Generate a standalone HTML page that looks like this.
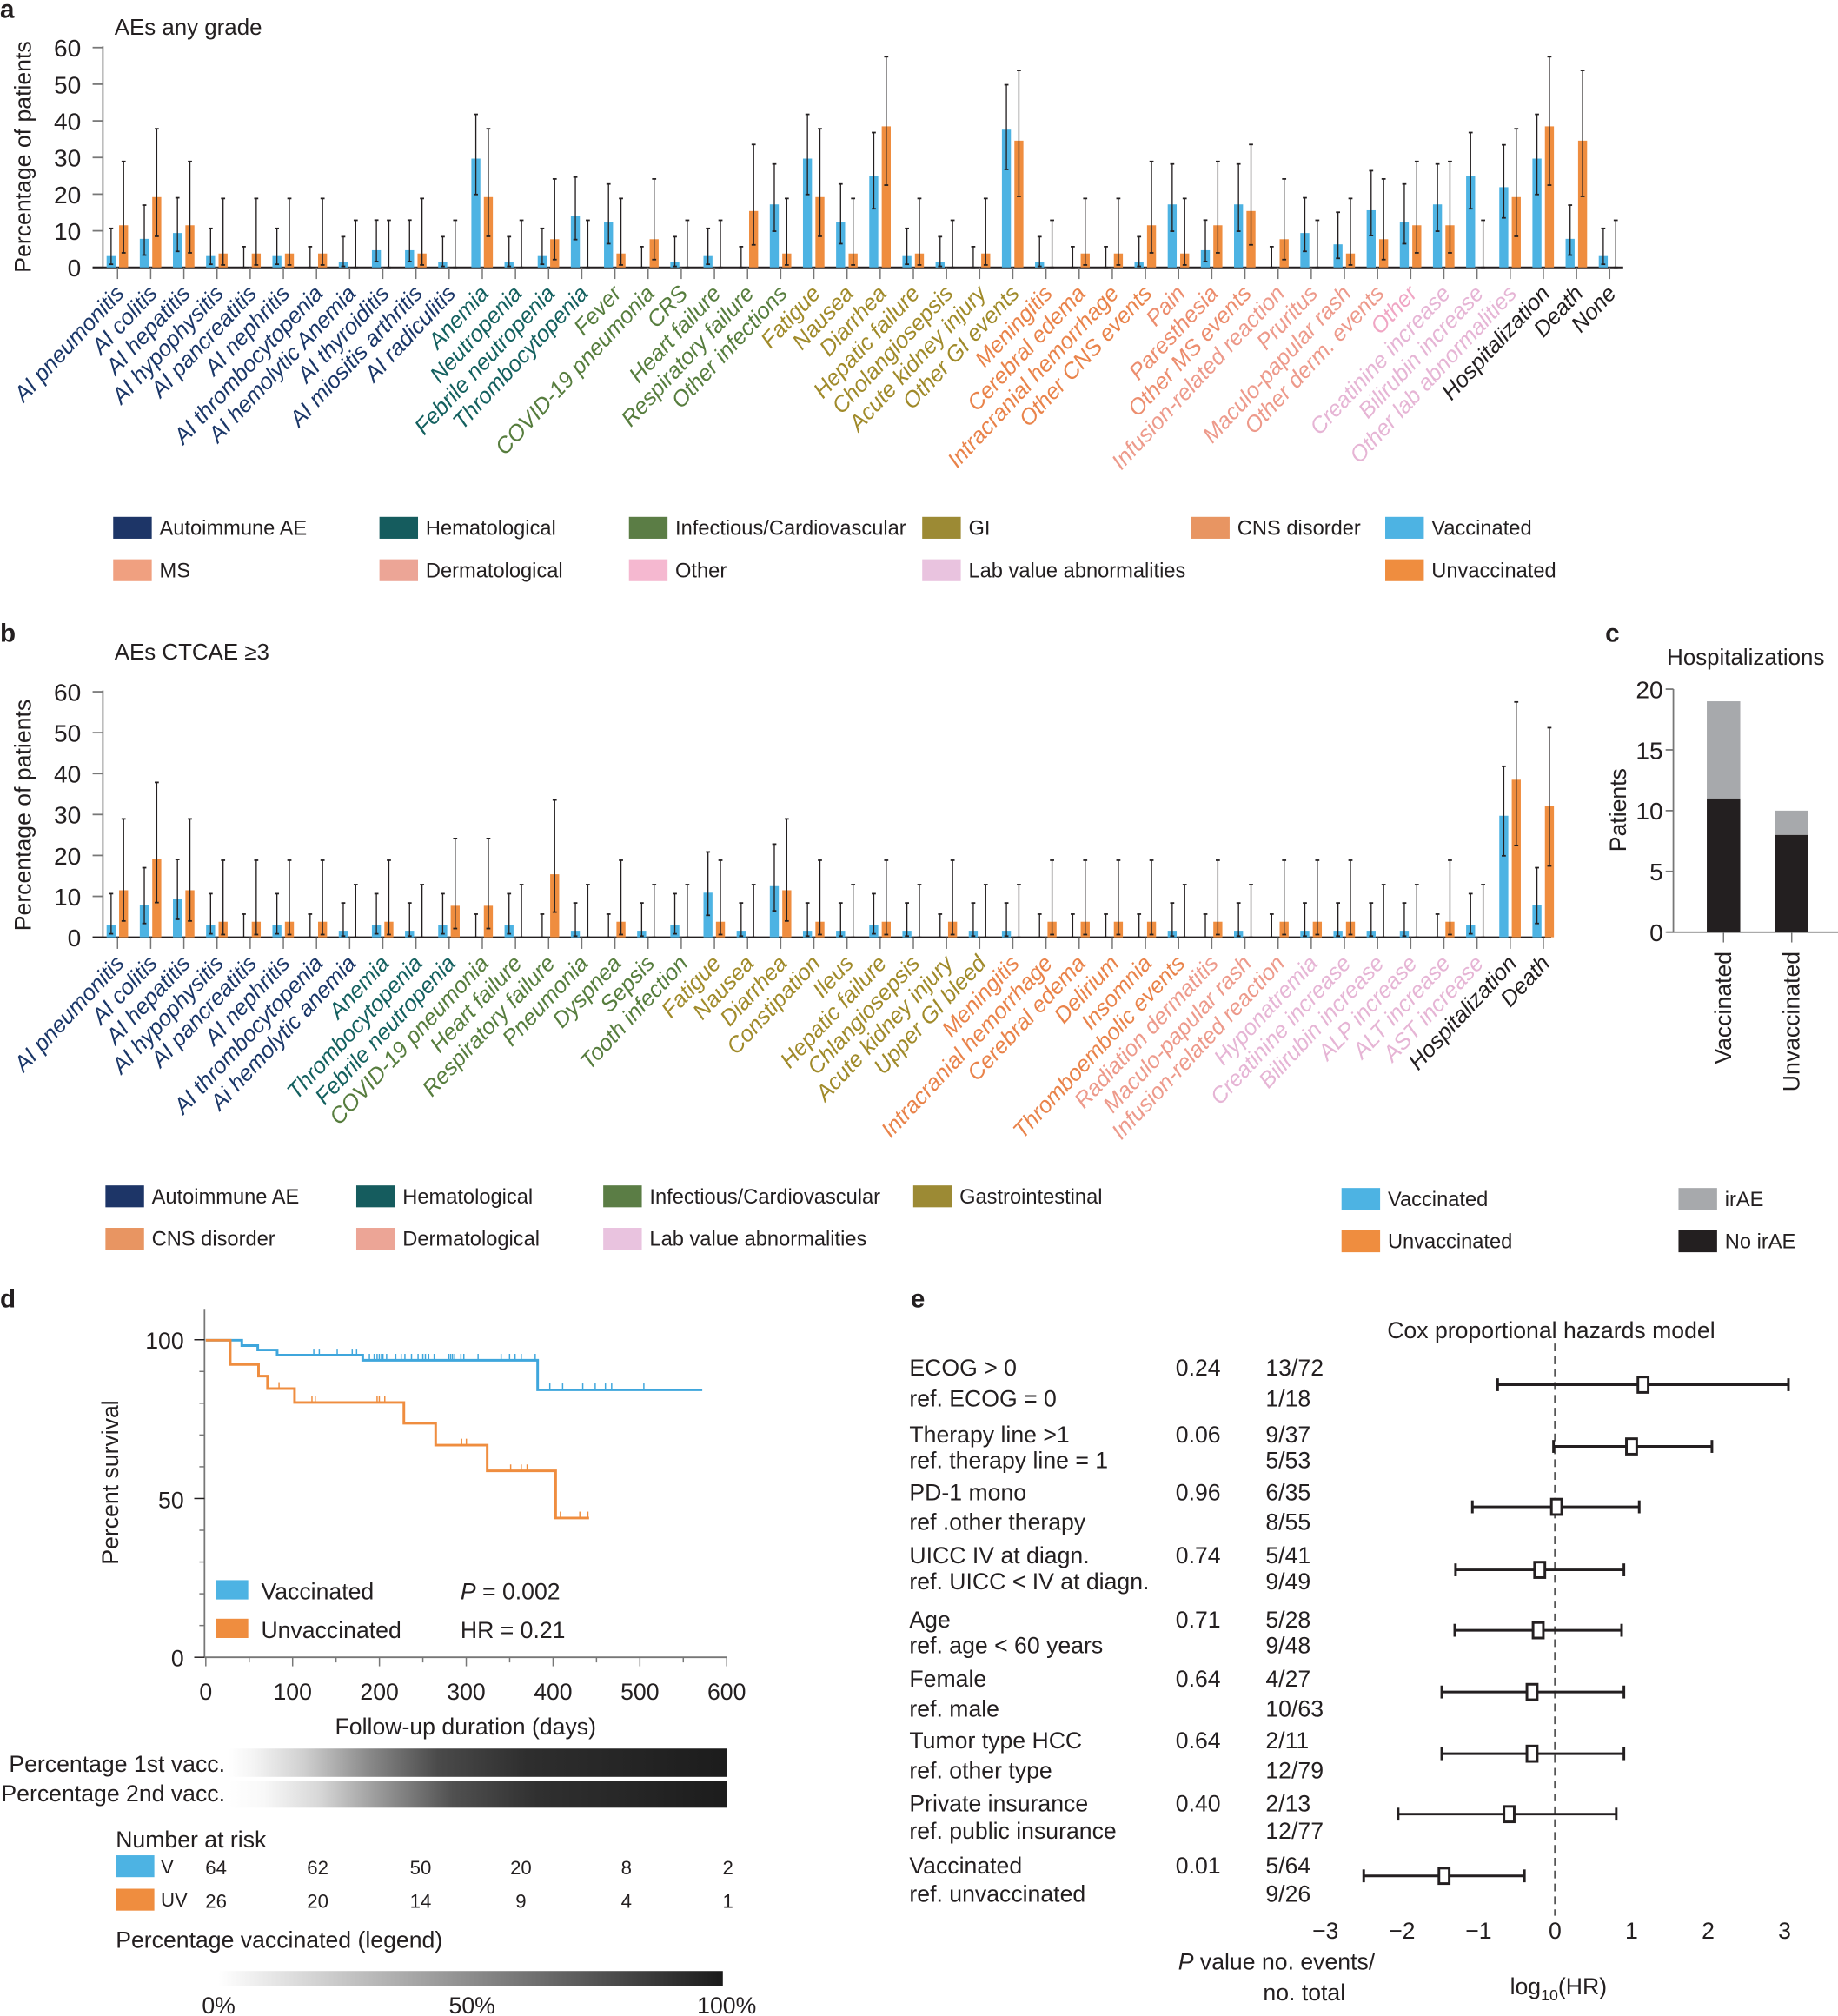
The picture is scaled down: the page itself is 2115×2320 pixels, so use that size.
<!DOCTYPE html>
<html><head><meta charset="utf-8">
<style>
html,body{margin:0;padding:0;background:#fff;}
svg{display:block;font-family:"Liberation Sans",sans-serif;}
</style></head>
<body>
<svg id="s" xmlns="http://www.w3.org/2000/svg" width="2115" height="2320" viewBox="0 0 1429 1568" preserveAspectRatio="none">
<defs>
<linearGradient id="g1" x1="0" x2="1" y1="0" y2="0">
<stop offset="0" stop-color="#fff"/><stop offset="0.05" stop-color="#f4f4f4"/><stop offset="0.15" stop-color="#d0d0d0"/><stop offset="0.28" stop-color="#8a8a8a"/><stop offset="0.42" stop-color="#4a4a4a"/><stop offset="0.6" stop-color="#2e2e2e"/><stop offset="1" stop-color="#1c1c1c"/>
</linearGradient>
<linearGradient id="g2" x1="0" x2="1" y1="0" y2="0">
<stop offset="0" stop-color="#fff"/><stop offset="0.07" stop-color="#f8f8f8"/><stop offset="0.18" stop-color="#d8d8d8"/><stop offset="0.3" stop-color="#9a9a9a"/><stop offset="0.45" stop-color="#505050"/><stop offset="0.62" stop-color="#303030"/><stop offset="1" stop-color="#1c1c1c"/>
</linearGradient>
<linearGradient id="g3" x1="0" x2="1" y1="0" y2="0">
<stop offset="0" stop-color="#fff"/><stop offset="1" stop-color="#1a1a1a"/>
</linearGradient>
</defs>
</svg>
<script>
(function(){
var s=document.getElementById('s');var h='';
var VC='#4db3e3',UC='#ef8d3f';
function T(x,y,t,o){o=o||{};h+='<text x="'+x+'" y="'+y+'" font-size="'+(o.fs||17)+'"'+(o.a?' text-anchor="'+o.a+'"':'')+(o.c?' fill="'+o.c+'"':' fill="#231f20"')+(o.it?' font-style="italic"':'')+(o.b?' font-weight="bold"':'')+(o.tr?' transform="'+o.tr+'"':'')+'>'+t+'</text>';}
function L(x1,y1,x2,y2,c,w,extra){h+='<line x1="'+x1+'" y1="'+y1+'" x2="'+x2+'" y2="'+y2+'" stroke="'+(c||'#231f20')+'" stroke-width="'+(w||1)+'"'+(extra||'')+'/>';}
function R(x,y,w,hh,c,extra){h+='<rect x="'+x+'" y="'+y+'" width="'+w+'" height="'+hh+'" fill="'+c+'"'+(extra||'')+'/>';}
function wil(p,n){var k=p/100,z=1.96,z2=z*z;var c=(k+z2/(2*n))/(1+z2/n);var hw=z*Math.sqrt(k*(1-k)/n+z2/(4*n*n))/(1+z2/n);return [Math.max(0,c-hw)*100,(c+hw)*100];}
var COL={n:'#1b3768',t:'#14605f',g:'#577d3e',o:'#a08a2a',c:'#e9834a',m:'#ec8d6e',d:'#ed9a8b',p:'#f0a6c4',l:'#e6b5d5',k:'#231f20'};
function panel(cats,y0,sc,axEnd,tickLen){
 // axes
 L(80,y0-60*sc-1,80,y0,'#777',1.2);
 for(var v=0;v<=60;v+=10){var yy=y0-v*sc;L(72,yy,80,yy,'#777',1.2);T(63,yy+7,v,{a:'end',fs:19});}
 L(72,y0,axEnd,y0,'#231f20',1.4);
 cats.forEach(function(c,i){
  var t=91.4+i*25.78;
  L(t,y0,t,y0+tickLen,'#777',1);
  var vb=c[2],ub=c[3];
  if(vb>0)R(t-8.5,y0-vb*sc,7,vb*sc,VC);
  if(ub>0)R(t+1.2,y0-ub*sc,7,ub*sc,UC);
  [[t-5,vb,64],[t+4.7,ub,26]].forEach(function(q){var ci=wil(q[1],q[2]);var a=y0-ci[0]*sc,b=y0-ci[1]*sc;L(q[0],a,q[0],b,'#231f20',0.9);L(q[0]-1.6,a,q[0]+1.6,a,'#231f20',1.2);L(q[0]-1.6,b,q[0]+1.6,b,'#231f20',1.2);});
  T(t+6,y0+21,c[0],{a:'end',c:COL[c[1]],it:1,fs:17.5,tr:'rotate(-47 '+(t+6)+' '+(y0+21)+')'});
 });
}
// Panel a
T(0,14,'a',{b:1,fs:20});
T(89,27,'AEs any grade',{fs:17.5});
T(24,122,'Percentage of patients',{a:'middle',fs:18,tr:'rotate(-90 24 122)'});
var A=[['AI pneumonitis','n',3.1,11.5],['AI colitis','n',7.8,19.2],['AI hepatitis','n',9.4,11.5],['AI hypophysitis','n',3.1,3.8],['AI pancreatitis','n',0,3.8],['AI nephritis','n',3.1,3.8],['AI thrombocytopenia','n',0,3.8],['AI hemolytic Anemia','n',1.6,0],['AI thyroiditis','n',4.7,0],['AI miositis arthritis','n',4.7,3.8],['AI radiculitis','n',1.6,0],
['Anemia','t',29.7,19.2],['Neutropenia','t',1.6,0],['Febrile neutropenia','t',3.1,7.7],['Thrombocytopenia','t',14.1,0],
['Fever','g',12.5,3.8],['COVID-19 pneumonia','g',0,7.7],['CRS','g',1.6,0],['Heart failure','g',3.1,0],['Respiratory failure','g',0,15.4],['Other infections','g',17.2,3.8],
['Fatigue','o',29.7,19.2],['Nausea','o',12.5,3.8],['Diarrhea','o',25,38.5],['Hepatic failure','o',3.1,3.8],['Cholangiosepsis','o',1.6,0],['Acute kidney injury','o',0,3.8],['Other GI events','o',37.6,34.6],
['Meningitis','c',1.6,0],['Cerebral edema','c',0,3.8],['Intracranial hemorrhage','c',0,3.8],['Other CNS events','c',1.6,11.5],
['Pain','m',17.2,3.8],['Paresthesia','m',4.7,11.5],['Other MS events','m',17.2,15.4],
['Infusion-related reaction','d',0,7.7],['Pruritus','d',9.4,0],['Maculo-papular rash','d',6.3,3.8],['Other derm. events','d',15.6,7.7],
['Other','p',12.5,11.5],['Creatinine increase','l',17.2,11.5],['Bilirubin increase','l',25,0],['Other lab abnormalities','l',21.9,19.2],
['Hospitalization','k',29.7,38.5],['Death','k',7.8,34.6],['None','k',3.1,0]];
panel(A,208,2.85,1262,9);
// legend a
function LG(x,y,c,t){R(x,y-14,30,17,c);T(x+36,y,t,{fs:16});}
LG(88,416,'#1d3567','Autoimmune AE');LG(295,416,'#155c5e','Hematological');LG(489,416,'#5b7d45','Infectious/Cardiovascular');LG(717,416,'#9c8a34','GI');LG(926,416,'#e89562','CNS disorder');LG(1077,416,VC,'Vaccinated');
LG(88,449,'#f0a080','MS');LG(295,449,'#eca596','Dermatological');LG(489,449,'#f5b8d0','Other');LG(717,449,'#e9c3df','Lab value abnormalities');LG(1077,449,UC,'Unvaccinated');
// Panel b
T(0,499,'b',{b:1,fs:20});
T(89,513,'AEs  CTCAE \u22653',{fs:17.5});
T(24,634,'Percentage of patients',{a:'middle',fs:18,tr:'rotate(-90 24 634)'});
var B=[['AI pneumonitis','n',3.1,11.5],['AI colitis','n',7.8,19.2],['AI hepatitis','n',9.4,11.5],['AI hypophysitis','n',3.1,3.8],['AI pancreatitis','n',0,3.8],['AI nephritis','n',3.1,3.8],['AI thrombocytopenia','n',0,3.8],['Ai hemolytic anemia','n',1.6,0],
['Anemia','t',3.1,3.8],['Thrombocytopenia','t',1.6,0],['Febrile neutropenia','t',3.1,7.7],
['COVID-19 pneumonia','g',0,7.7],['Heart failure','g',3.1,0],['Respiratory failure','g',0,15.4],['Pneumonia','g',1.6,0],['Dyspnea','g',0,3.8],['Sepsis','g',1.6,0],['Tooth infection','g',3.1,0],
['Fatigue','o',10.9,3.8],['Nausea','o',1.6,0],['Diarrhea','o',12.5,11.5],['Constipation','o',1.6,3.8],['Ileus','o',1.6,0],['Hepatic failure','o',3.1,3.8],['Chlangiosepsis','o',1.6,0],['Acute kidney injury','o',0,3.8],['Upper GI bleed','o',1.6,0],
['Meningitis','c',1.6,0],['Intracranial hemorrhage','c',0,3.8],['Cerebral edema','c',0,3.8],['Delirium','c',0,3.8],['Insomnia','c',0,3.8],['Thromboembolic events','c',1.6,0],
['Radiation dermatitis','d',0,3.8],['Maculo-papular rash','d',1.6,0],['Infusion-related reaction','d',0,3.8],
['Hyponatremia','l',1.6,3.8],['Creatinine increase','l',1.6,3.8],['Bilirubin increase','l',1.6,0],['ALP increase','l',1.6,0],['ALT increase','l',0,3.8],['AST increase','l',3.1,0],
['Hospitalization','k',29.7,38.5],['Death','k',7.8,32]];
panel(B,729,3.183,1206,9);
LG(82,936,'#1d3567','Autoimmune AE');LG(277,936,'#155c5e','Hematological');LG(469,936,'#5b7d45','Infectious/Cardiovascular');LG(710,936,'#9c8a34','Gastrointestinal');LG(1043,938,VC,'Vaccinated');LG(1305,938,'#a7a9ac','irAE');
LG(82,969,'#e89562','CNS disorder');LG(277,969,'#eca596','Dermatological');LG(469,969,'#e9c3df','Lab value abnormalities');LG(1043,971,UC,'Unvaccinated');LG(1305,971,'#231f20','No irAE');
// Panel c
T(1248,499,'c',{b:1,fs:20});
T(1296,517,'Hospitalizations',{fs:17.5});
var c0=725,cs=9.45;
L(1301,536,1301,c0,'#777',1.2);
for(var v=0;v<=20;v+=5){var yy=c0-v*cs;L(1295,yy,1301,yy,'#777',1.2);T(1293,yy+7,v,{a:'end',fs:19});}
L(1296,c0,1429,c0,'#777',1.2);
R(1327,c0-19*cs,26,8*cs,'#a7a9ac');R(1327,c0-11*cs,26,11*cs,'#231f20');
R(1380,c0-10*cs,26,2*cs,'#a7a9ac');R(1380,c0-8*cs,26,8*cs,'#231f20');
L(1340,c0,1340,c0+8,'#777');L(1393,c0,1393,c0+8,'#777');
T(1264,630,'Patients',{a:'middle',fs:18,tr:'rotate(-90 1264 630)'});
T(1346,740,'Vaccinated',{a:'end',fs:18,tr:'rotate(-90 1346 740)'});
T(1399,740,'Unvaccinated',{a:'end',fs:18,tr:'rotate(-90 1399 740)'});
// Panel d
T(0,1017,'d',{b:1,fs:20});
var dx0=160,dxs=0.675,dy=function(p){return 1289-p*2.47;};
L(159,1018,159,1289,'#777',1.2);
for(var p=0;p<=100;p+=10){var yy=dy(p);L(p%50==0?151:155,yy,159,yy,p%50==0?'#231f20':'#777',1);}
T(143,1049,'100',{a:'end',fs:18});T(143,1173,'50',{a:'end',fs:18});T(143,1296,'0',{a:'end',fs:18});
L(159,1289,565,1289,'#777',1.2);
for(var d=0;d<=600;d+=100){var xx=dx0+d*dxs;L(xx,1289,xx,1296,'#777',1);T(xx,1322,d,{a:'middle',fs:18});}
for(var d=50;d<600;d+=100){var xx=dx0+d*dxs;L(xx,1289,xx,1293,'#777',1);}
T(362,1349,'Follow-up duration (days)',{a:'middle',fs:18});
T(92,1153,'Percent survival',{a:'middle',fs:18,tr:'rotate(-90 92 1153)'});
function km(pts,end,col,cens){var d='M160 '+pts[0][1];var y=pts[0][1];for(var i=1;i<pts.length;i++){d+=' H'+pts[i][0]+' V'+pts[i][1];}d+=' H'+end;h+='<path d="'+d+'" fill="none" stroke="'+col+'" stroke-width="2"/>';cens.forEach(function(c){L(c[0],c[1],c[0],c[1]-5,col,1);});}
var bc=[];[383,398,447,488,500].forEach(function(z){bc.push([135+z*0.2845,1054]);});
[535,548,556,562,568,572,582,607,622,632,650,668,681,688,697,712,752,757,762,768,785,793,832,895,918,933,950,988].forEach(function(z){bc.push([135+z*0.2845,1058]);});
[1028,1063,1118,1152,1180,1197,1285].forEach(function(z){bc.push([135+z*0.2845,1081]);});
km([[160,1042.4],[188,1046.6],[200.4,1050],[215.5,1054],[282,1058],[418,1081]],546,'#3fa6dc',bc);
var oc=[];[[288,1080]].concat([[378,1090.8],[387,1090.8],[556,1090.8],[562,1090.8],[577,1090.8],[787,1124],[800,1124],[921,1144],[950,1144],[966,1144],[1057,1180.7],[1110,1180.7],[1132,1180.7]]).forEach(function(q){oc.push([135+q[0]*0.2845,q[1]]);});
km([[160,1042.4],[179,1061.3],[201,1070.3],[208,1080],[229,1090.8],[314,1107],[338.7,1124],[378.8,1144],[432,1180.7]],458,'#ef8d3f',oc);
R(168,1229,25,15,VC);T(203,1244,'Vaccinated',{fs:18});
R(168,1259,25,15,UC);T(203,1274,'Unvaccinated',{fs:18});
h+='<text x="358" y="1244" font-size="18" fill="#231f20"><tspan font-style="italic">P</tspan> = 0.002</text>';
T(358,1274,'HR = 0.21',{fs:18});
T(175,1378,'Percentage 1st vacc.',{a:'end',fs:18});
T(175,1401,'Percentage 2nd vacc.',{a:'end',fs:18});
R(178,1360,387,22,'url(#g1)');R(178,1385,387,21,'url(#g2)');
T(90,1437,'Number at risk',{fs:18});
R(90,1443,30,17,VC);T(125,1457,'V',{fs:15});
R(90,1469,30,17,UC);T(125,1483,'UV',{fs:15});
var xs=[168,247,327,405,487,566];[64,62,50,20,8,2].forEach(function(v,i){T(xs[i],1458,v,{a:'middle',fs:15});});
[26,20,14,9,4,1].forEach(function(v,i){T(xs[i],1484,v,{a:'middle',fs:15});});
T(90,1515,'Percentage vaccinated (legend)',{fs:18});
R(170,1533,392,12,'url(#g3)');
T(157,1566,'0%',{fs:18});T(367,1566,'50%',{a:'middle',fs:18});T(588,1566,'100%',{a:'end',fs:18});
// Panel e
T(708,1017,'e',{b:1,fs:20});
T(1206,1041,'Cox proportional hazards model',{a:'middle',fs:18});
var E=[['ECOG  &gt; 0','ref. ECOG  = 0','0.24','13/72','1/18',1070,1094,1077,1.15,-0.75,3.05],
['Therapy line  &gt;1','ref. therapy line = 1','0.06','9/37','5/53',1122,1142,1125,1.0,-0.02,2.05],
['PD-1 mono','ref .other therapy','0.96','6/35','8/55',1167,1190,1172,0.02,-1.08,1.1],
['UICC IV at diagn.','ref. UICC &lt; IV at diagn.','0.74','5/41','9/49',1216,1236,1221,-0.2,-1.3,0.9],
['Age','ref. age &lt; 60 years','0.71','5/28','9/48',1266,1286,1268,-0.22,-1.31,0.87],
['Female','ref. male','0.64','4/27','10/63',1312,1335,1316,-0.3,-1.48,0.9],
['Tumor type HCC','ref. other type','0.64','2/11','12/79',1360,1383,1364,-0.3,-1.48,0.9],
['Private insurance','ref. public insurance','0.40','2/13','12/77',1409,1430,1411,-0.6,-2.05,0.8],
['Vaccinated','ref. unvaccinated','0.01','5/64','9/26',1457,1479,1459,-1.45,-2.5,-0.4]];
var ex=function(v){return 1209+v*59.5;};
L(1209,1045,1209,1490,'#555',1.5,' stroke-dasharray="6,4"');
E.forEach(function(e){T(707,e[5],e[0],{fs:18});T(707,e[6],e[1],{fs:18});T(914,e[5],e[2],{fs:18});T(984,e[5],e[3],{fs:18});T(984,e[6],e[4],{fs:18});
 var y=e[7];L(ex(e[9]),y,ex(e[10]),y,'#231f20',2);L(ex(e[9]),y-5,ex(e[9]),y+5,'#231f20',2);L(ex(e[10]),y-5,ex(e[10]),y+5,'#231f20',2);
 R(ex(e[8])-4,y-6,8,12,'#fff',' stroke="#231f20" stroke-width="2"');});
for(var v=-3;v<=3;v++){T(ex(v),1508,(v<0?'\u2212':'')+Math.abs(v),{a:'middle',fs:18});}
h+='<text x="916" y="1532" font-size="18" fill="#231f20"><tspan font-style="italic">P</tspan> value  no. events/</text>';
T(982,1556,'no. total',{fs:18});
h+='<text x="1174" y="1551" font-size="18" fill="#231f20">log<tspan font-size="12" dy="5">10</tspan><tspan dy="-5">(HR)</tspan></text>';
s.insertAdjacentHTML('beforeend',h);
})();
</script>
</body></html>
